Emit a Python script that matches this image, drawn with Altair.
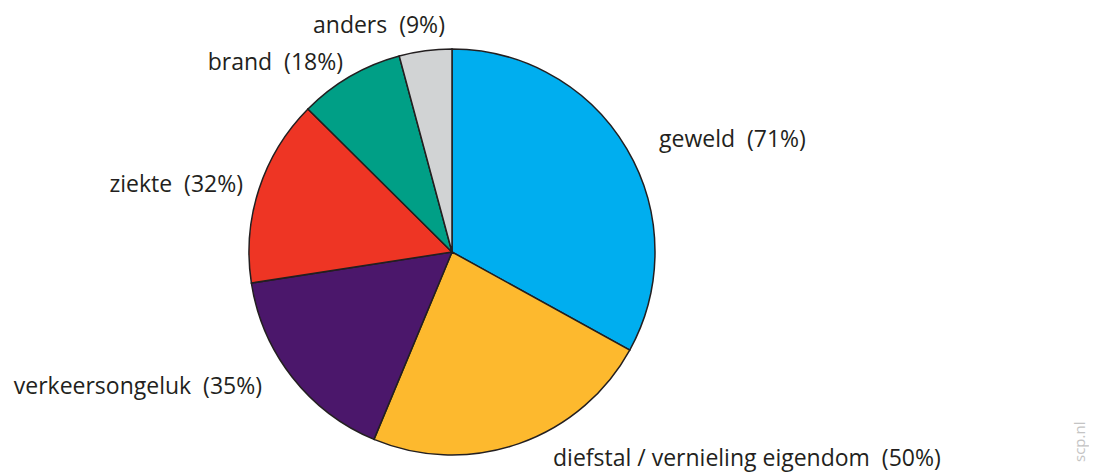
import altair as alt
import pandas as pd

categories = ["geweld", "diefstal / vernieling eigendom", "verkeersongeluk", "ziekte", "brand", "anders"]
values = [71, 50, 35, 32, 18, 9]
colors = ["#00AEEF", "#FDB92E", "#4B176B", "#EE3524", "#009F86", "#D1D3D4"]

df = pd.DataFrame({"cat": categories, "val": values, "ord": list(range(len(categories)))})

W, H = 1081, 464
CX, CY, R = 444, 244, 203
FONT = "Open Sans"

pie = alt.Chart(df).mark_arc(outerRadius=R, stroke="#231F20", strokeWidth=1.5).encode(
    theta=alt.Theta("val:Q", stack=True),
    order=alt.Order("ord:Q"),
    color=alt.Color("cat:N", scale=alt.Scale(domain=categories, range=colors), legend=None),
    x=alt.value(CX),
    y=alt.value(CY),
)

# label anchors (annotation placement), left/right alignment
label_specs = [
    ("geweld", 651, 139, "left"),
    ("diefstal / vernieling eigendom", 545, 458, "left"),
    ("verkeersongeluk", 254, 386, "right"),
    ("ziekte", 235, 184, "right"),
    ("brand", 335, 62, "right"),
    ("anders", 305, 25, "left"),
]

layers = [pie]
for cat, lx, ly, al in label_specs:
    v = values[categories.index(cat)]
    txt = f"{cat}\u00a0 ({v}%)"
    layers.append(
        alt.Chart(pd.DataFrame({"t": [txt]})).mark_text(
            align=al, baseline="alphabetic", font=FONT, fontSize=23, color="#231F20"
        ).encode(text="t:N", x=alt.value(lx), y=alt.value(ly))
    )

layers.append(
    alt.Chart(pd.DataFrame({"t": ["scp.nl"]})).mark_text(
        align="left", baseline="middle", angle=270, font=FONT, fontSize=15, color="#C4C4C4"
    ).encode(text="t:N", x=alt.value(1072), y=alt.value(454))
)

chart = alt.layer(*layers).properties(
    width=W, height=H, autosize=alt.AutoSizeParams(type="none"), padding=0,
    background="white",
).configure_view(strokeWidth=0, stroke=None)

chart.save("out.html", embed_options={"renderer": "svg", "actions": False})
